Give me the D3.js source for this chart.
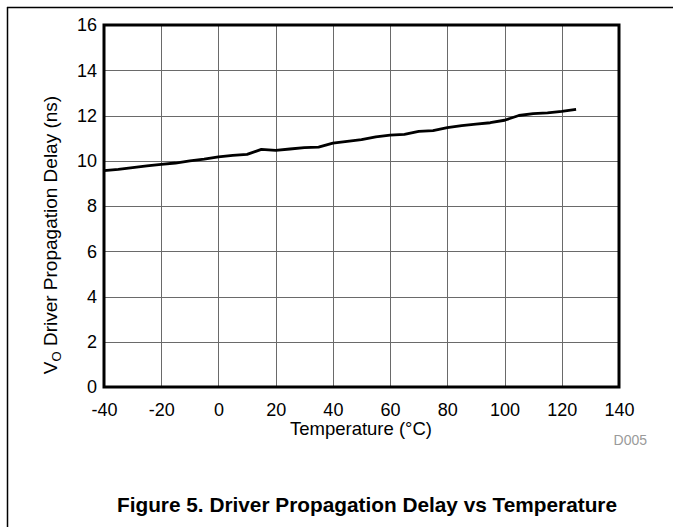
<!DOCTYPE html>
<html>
<head>
<meta charset="utf-8">
<script src="https://cdn.jsdelivr.net/npm/d3@7"></script>
<style>
  html, body { margin: 0; padding: 0; background: #fff; }
  svg { display: block; font-family: "Liberation Sans", Arial, sans-serif; }
</style>
</head>
<body>
<svg id="chart" width="673" height="527"></svg>
<script>
// Driver propagation delay (ns) measured across temperature (°C)
const temperature = [-40, -35, -30, -25, -20, -15, -10, -5, 0, 5, 10, 15, 20, 25, 30, 35, 40, 45, 50,
  55, 60, 65, 70, 75, 80, 85, 90, 95, 100, 105, 110, 115, 120, 125];
const delay = [9.56, 9.62, 9.70, 9.77, 9.84, 9.90, 9.99, 10.07, 10.17, 10.24, 10.28, 10.50, 10.46, 10.52,
  10.58, 10.60, 10.78, 10.86, 10.93, 11.06, 11.13, 11.17, 11.30, 11.33, 11.46, 11.55, 11.62, 11.68,
  11.79, 12.00, 12.08, 12.12, 12.18, 12.27];
const xTicks = [-40, -20, 0, 20, 40, 60, 80, 100, 120, 140];
const yTicks = [0, 2, 4, 6, 8, 10, 12, 14, 16];

const svg = d3.select("#chart");
const plot = { left: 104, right: 619, top: 25, bottom: 387 };

const x = d3.scaleLinear().domain([-40, 140]).range([plot.left, plot.right]);
const y = d3.scaleLinear().domain([0, 16]).range([plot.bottom, plot.top]);

// page frame
svg.append("line").attr("x1", 7.5).attr("x2", 7.5).attr("y1", 7).attr("y2", 527)
  .attr("stroke", "#000").attr("stroke-width", 1.5);
svg.append("line").attr("x1", 7).attr("x2", 673).attr("y1", 7.5).attr("y2", 7.5)
  .attr("stroke", "#000").attr("stroke-width", 1.5);

// grid
const grid = svg.append("g").attr("stroke", "#6a6a6a").attr("stroke-width", 1);
grid.selectAll("line.v").data(xTicks.slice(1, -1)).join("line")
  .attr("x1", d => Math.round(x(d)) + 0.5).attr("x2", d => Math.round(x(d)) + 0.5)
  .attr("y1", plot.top).attr("y2", plot.bottom);
grid.selectAll("line.h").data(yTicks.slice(1, -1)).join("line")
  .attr("y1", d => Math.round(y(d)) + 0.5).attr("y2", d => Math.round(y(d)) + 0.5)
  .attr("x1", plot.left).attr("x2", plot.right);

// axes (labels only, ticks drawn by grid)
const xAxis = svg.append("g").attr("transform", `translate(0,${plot.bottom})`)
  .call(d3.axisBottom(x).tickValues(xTicks).tickSize(0).tickPadding(16).tickFormat(d => String(d)));
const yAxis = svg.append("g").attr("transform", `translate(${plot.left},0)`)
  .call(d3.axisLeft(y).tickValues(yTicks).tickSize(0).tickPadding(7).tickFormat(d => String(d)));
[xAxis, yAxis].forEach(a => {
  a.select(".domain").remove();
  a.selectAll("text").attr("font-size", 18).attr("fill", "#000")
    .attr("font-family", "'Liberation Sans', Arial, sans-serif");
});

// data line
svg.append("path")
  .datum(temperature.map((t, i) => [t, delay[i]]))
  .attr("fill", "none").attr("stroke", "#000").attr("stroke-width", 2.8)
  .attr("stroke-linejoin", "round")
  .attr("d", d3.line().x(d => x(d[0])).y(d => y(d[1])));

// plot frame
svg.append("rect")
  .attr("x", plot.left).attr("y", plot.top)
  .attr("width", plot.right - plot.left).attr("height", plot.bottom - plot.top)
  .attr("fill", "none").attr("stroke", "#000").attr("stroke-width", 3);

// axis titles
svg.append("text").attr("x", 361).attr("y", 435).attr("text-anchor", "middle")
  .attr("font-size", 18.5).text("Temperature (°C)");

const yTitle = svg.append("text")
  .attr("transform", "translate(57,235) rotate(-90)")
  .attr("text-anchor", "middle").attr("font-size", 19);
yTitle.append("tspan").text("V");
yTitle.append("tspan").attr("font-size", 13).attr("dy", 4).text("O");
yTitle.append("tspan").attr("dy", -4).text(" Driver Propagation Delay (ns)");

svg.append("text").attr("x", 647).attr("y", 445).attr("text-anchor", "end")
  .attr("font-size", 14).attr("fill", "#9a9a9a").text("D005");

svg.append("text").attr("x", 367).attr("y", 512).attr("text-anchor", "middle")
  .attr("font-size", 20.8).attr("font-weight", "bold").text("Figure 5. Driver Propagation Delay vs Temperature");
</script>
</body>
</html>
